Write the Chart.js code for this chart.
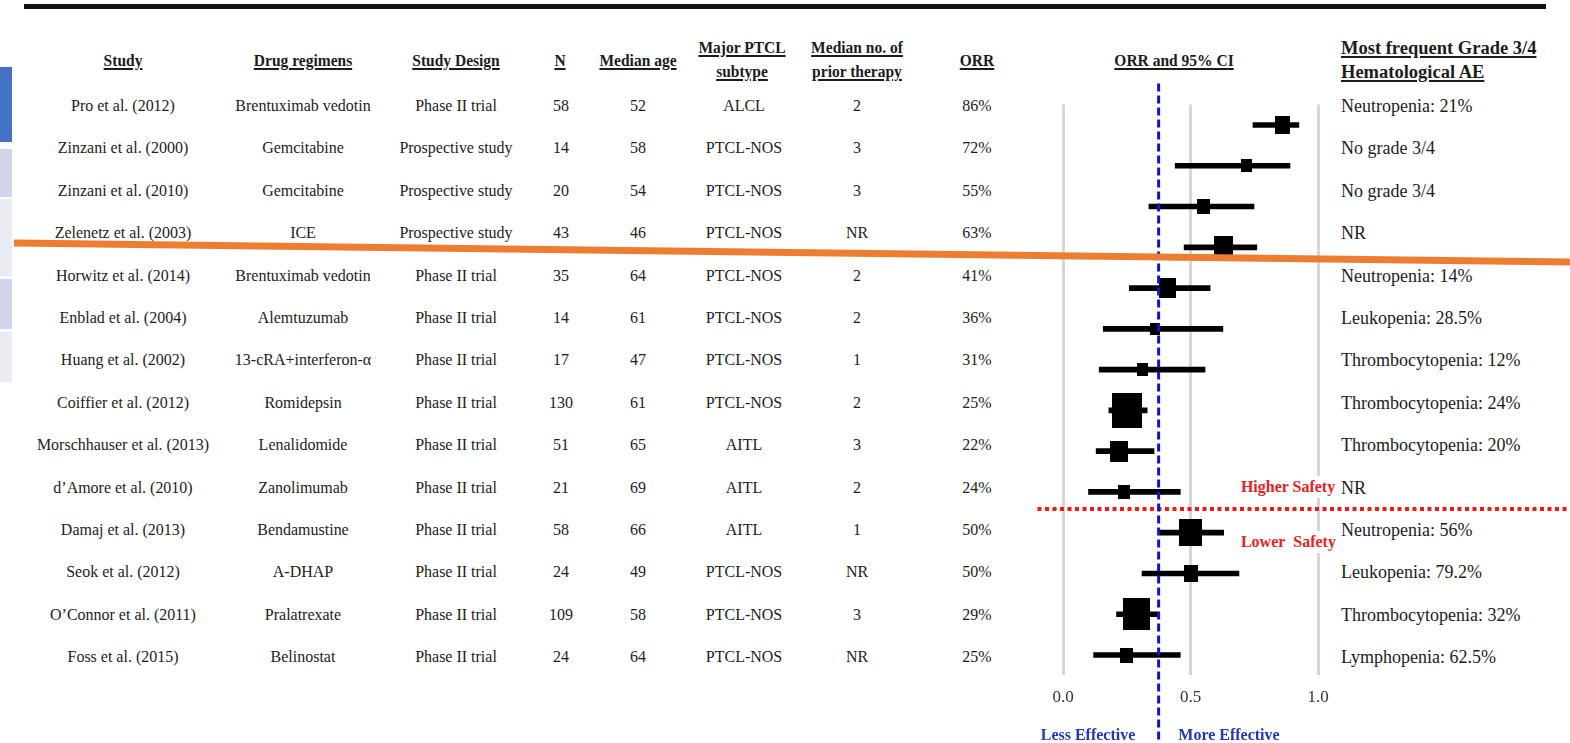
<!DOCTYPE html>
<html>
<head>
<meta charset="utf-8">
<title>PTCL single-agent and regimen studies: ORR forest plot</title>
<script src="https://cdn.jsdelivr.net/npm/chart.js@4.4.1/dist/chart.umd.min.js"></script>
<style>
  html, body { margin: 0; padding: 0; background: #fff; }
  #page {
    position: relative; width: 1570px; height: 743px; overflow: hidden; background: #fff;
    font-family: "Liberation Serif", "Times New Roman", serif; color: #1c1c1c;
  }
  .t {
    position: absolute; white-space: nowrap; font-size: 17px; line-height: 22px;
    transform: translate(-50%, -50%) scaleX(0.94);
  }
  .t.left { transform-origin: 0 50%; transform: translate(0, -50%) scaleX(0.94); }
  .t.ae { font-size: 18px; transform: translate(0, -50%); }
  .h {
    font-weight: bold; font-size: 16.5px; line-height: 24px; text-align: center;
    text-decoration: underline; text-decoration-thickness: 1.5px; text-underline-offset: 2px;
  }
  .h.ae { font-size: 18.5px; text-align: left; }
  .note { font-weight: bold; font-size: 17px; }
  .boxed { background: #fff; padding: 0 1px; }
  .red { color: #ee1c24; }
  .blue { color: #1f37c4; }
  .tab { position: absolute; left: 0; width: 12px; }
  #rule { position: absolute; left: 24px; top: 4px; width: 1522px; height: 5px; background: #111; }
  #chart { position: absolute; left: 0; top: 0; }
  #overlay { position: absolute; left: 0; top: 0; }
</style>
</head>
<body>
<div id="page">
  <div id="rule"></div>
  <div class="tab" style="top:67px;height:75px;background:#4472c4;"></div>
  <div class="tab" style="top:149px;height:48px;background:#cfd5ea;"></div>
  <div class="tab" style="top:199px;height:77px;background:#e9ebf5;"></div>
  <div class="tab" style="top:279px;height:50px;background:#cfd5ea;"></div>
  <div class="tab" style="top:332px;height:50px;background:#e9ebf5;"></div>
  <div id="table"></div>
  <canvas id="chart" width="1570" height="743"></canvas>
  <div id="overlay"></div>
</div>
<script>
// ---- study table ----
const studies = [
  'Pro et al. (2012)', 'Zinzani et al. (2000)', 'Zinzani et al. (2010)', 'Zelenetz et al. (2003)',
  'Horwitz et al. (2014)', 'Enblad et al. (2004)', 'Huang et al. (2002)', 'Coiffier et al. (2012)',
  'Morschhauser et al. (2013)', 'd\u2019Amore et al. (2010)', 'Damaj et al. (2013)', 'Seok et al. (2012)',
  'O\u2019Connor et al. (2011)', 'Foss et al. (2015)'
];
const regimens = [
  'Brentuximab vedotin', 'Gemcitabine', 'Gemcitabine', 'ICE', 'Brentuximab vedotin', 'Alemtuzumab',
  '13-cRA+interferon-\u03b1', 'Romidepsin', 'Lenalidomide', 'Zanolimumab', 'Bendamustine', 'A-DHAP',
  'Pralatrexate', 'Belinostat'
];
const designs = [
  'Phase II trial', 'Prospective study', 'Prospective study', 'Prospective study', 'Phase II trial',
  'Phase II trial', 'Phase II trial', 'Phase II trial', 'Phase II trial', 'Phase II trial',
  'Phase II trial', 'Phase II trial', 'Phase II trial', 'Phase II trial'
];
const sampleSize = [58, 14, 20, 43, 35, 14, 17, 130, 51, 21, 58, 24, 109, 24];
const medianAge = [52, 58, 54, 46, 64, 61, 47, 61, 65, 69, 66, 49, 58, 64];
const subtypes = [
  'ALCL', 'PTCL-NOS', 'PTCL-NOS', 'PTCL-NOS', 'PTCL-NOS', 'PTCL-NOS', 'PTCL-NOS', 'PTCL-NOS',
  'AITL', 'AITL', 'AITL', 'PTCL-NOS', 'PTCL-NOS', 'PTCL-NOS'
];
const priorTherapies = ['2', '3', '3', 'NR', '2', '2', '1', '2', '3', '2', '1', 'NR', '3', 'NR'];
const orrPct = [86, 72, 55, 63, 41, 36, 31, 25, 22, 24, 50, 50, 29, 25];
const hematologicAE = [
  'Neutropenia: 21%', 'No grade 3/4', 'No grade 3/4', 'NR', 'Neutropenia: 14%', 'Leukopenia: 28.5%',
  'Thrombocytopenia: 12%', 'Thrombocytopenia: 24%', 'Thrombocytopenia: 20%', 'NR', 'Neutropenia: 56%',
  'Leukopenia: 79.2%', 'Thrombocytopenia: 32%', 'Lymphopenia: 62.5%'
];

// ---- forest plot ----
const ciLower = [0.745, 0.44, 0.337, 0.475, 0.26, 0.158, 0.142, 0.18, 0.13, 0.10, 0.38, 0.31, 0.21, 0.12];
const ciUpper = [0.925, 0.89, 0.749, 0.76, 0.577, 0.627, 0.557, 0.33, 0.357, 0.46, 0.63, 0.69, 0.37, 0.46];
const studyWeightPct = [5.1, 2.6, 4.0, 8.2, 6.4, 2.3, 2.9, 20.5, 7.6, 3.1, 12.1, 4.7, 16.6, 3.9];
const xTickValues = [0, 0.5, 1.0];
const effectThreshold = 0.375;     // less / more effective split
const safetySplitAfter = 'd\u2019Amore et al. (2010)'; // higher safety above, lower safety below

// ---- table text ----
function put(parent, text, x, y, cls) {
  const d = document.createElement('div');
  d.className = 't' + (cls ? ' ' + cls : '');
  d.style.left = x + 'px';
  d.style.top = y + 'px';
  d.innerHTML = text;
  parent.appendChild(d);
}
const table = document.getElementById('table');
const overlay = document.getElementById('overlay');

const headerY = 61;
put(table, 'Study', 123, headerY, 'h');
put(table, 'Drug regimens', 303, headerY, 'h');
put(table, 'Study Design', 456, headerY, 'h');
put(table, 'N', 560, headerY, 'h');
put(table, 'Median age', 638, headerY, 'h');
put(table, 'Major PTCL<br>subtype', 742, 60, 'h');
put(table, 'Median no. of<br>prior therapy', 857, 60, 'h');
put(table, 'ORR', 977, headerY, 'h');
put(table, 'ORR and 95% CI', 1174, headerY, 'h');
put(table, 'Most frequent Grade 3/4<br>Hematological AE', 1341, 60, 'h left ae');

const rowTop = 106, rowStep = 42.4;
studies.forEach((s, i) => {
  const y = rowTop + i * rowStep;
  put(table, s, 123, y);
  put(table, regimens[i], 303, y);
  put(table, designs[i], 456, y);
  put(table, String(sampleSize[i]), 561, y);
  put(table, String(medianAge[i]), 638, y);
  put(table, subtypes[i], 744, y);
  put(table, priorTherapies[i], 857, y);
  put(table, orrPct[i] + '%', 977, y);
  put(table, hematologicAE[i], 1341, y, 'left ae');
});

put(overlay, 'Higher Safety', 1240, 487, 'left note red boxed');
put(overlay, 'Lower&nbsp;&nbsp;Safety', 1240, 542, 'left note red boxed');
put(overlay, 'Less Effective', 1088, 735, 'note blue');
put(overlay, 'More Effective', 1229, 735, 'note blue');

// ---- square markers, sized by study weight ----
const markerBoxes = studyWeightPct.map(w => {
  const side = Math.round(6.6 * Math.sqrt(w));
  const c = document.createElement('canvas');
  c.width = side;
  c.height = Math.round(side * 1.18);
  const g = c.getContext('2d');
  g.fillStyle = '#000';
  g.fillRect(0, 0, c.width, c.height);
  return c;
});

const guideLines = {
  id: 'guideLines',
  afterDatasetsDraw(chart) {
    const { ctx, scales: { x, y }, chartArea } = chart;
    ctx.save();
    // dotted safety divider between rows
    const split = studies.indexOf(safetySplitAfter) + 0.42;
    const ry = y.getPixelForValue(split);
    ctx.strokeStyle = '#ff1414';
    ctx.lineWidth = 4;
    ctx.setLineDash([4, 3.5]);
    ctx.beginPath();
    ctx.moveTo(chartArea.left, ry);
    ctx.lineTo(chart.width, ry);
    ctx.stroke();
    // dashed efficacy threshold
    const bx = x.getPixelForValue(effectThreshold);
    ctx.strokeStyle = '#1212d4';
    ctx.lineWidth = 3;
    ctx.setLineDash([8, 4]);
    ctx.beginPath();
    ctx.moveTo(bx, chartArea.top - 21);
    ctx.lineTo(bx, chart.height);
    ctx.stroke();
    ctx.restore();
  },
  afterDraw(chart) {
    // orange divider across the whole table
    const ctx = chart.ctx;
    ctx.save();
    ctx.strokeStyle = '#ed7d31';
    ctx.lineWidth = 7;
    ctx.beginPath();
    ctx.moveTo(14, 243);
    ctx.lineTo(chart.width, 262);
    ctx.stroke();
    ctx.restore();
  }
};

new Chart(document.getElementById('chart'), {
  type: 'bar',
  data: {
    labels: studies,
    datasets: [
      {
        type: 'bar',
        label: '95% CI',
        indexAxis: 'y',
        data: ciLower.map((lo, i) => [lo, ciUpper[i]]),
        backgroundColor: '#000',
        borderWidth: 0,
        barThickness: 5,
        order: 2
      },
      {
        type: 'line',
        label: 'ORR',
        indexAxis: 'y',
        data: orrPct.map(v => v / 100),
        showLine: false,
        pointStyle: ctx => markerBoxes[ctx.dataIndex] || 'rect',
        pointRadius: 4,
        pointHoverRadius: 4,
        borderColor: '#000',
        backgroundColor: '#000',
        order: 1
      }
    ]
  },
  options: {
    indexAxis: 'y',
    responsive: false,
    animation: false,
    devicePixelRatio: 1,
    layout: { padding: { left: 1037.5, right: 201, top: 104.6, bottom: 0 } },
    plugins: { legend: { display: false }, tooltip: { enabled: false } },
    scales: {
      y: { type: 'category', display: false, offset: true },
      x: {
        type: 'linear',
        position: 'bottom',
        min: -0.1,
        max: 1.2,
        border: { display: false },
        grid: { color: '#d6d6d6', lineWidth: 3, drawTicks: false },
        afterBuildTicks: s => { s.ticks = xTickValues.map(v => ({ value: v })); },
        afterFit: s => { s.height = 67.6; },
        ticks: {
          padding: 12,
          color: '#333',
          font: { family: 'Liberation Serif', size: 17 },
          callback: v => Number(v).toFixed(1)
        }
      }
    }
  },
  plugins: [guideLines]
});
</script>
</body>
</html>
